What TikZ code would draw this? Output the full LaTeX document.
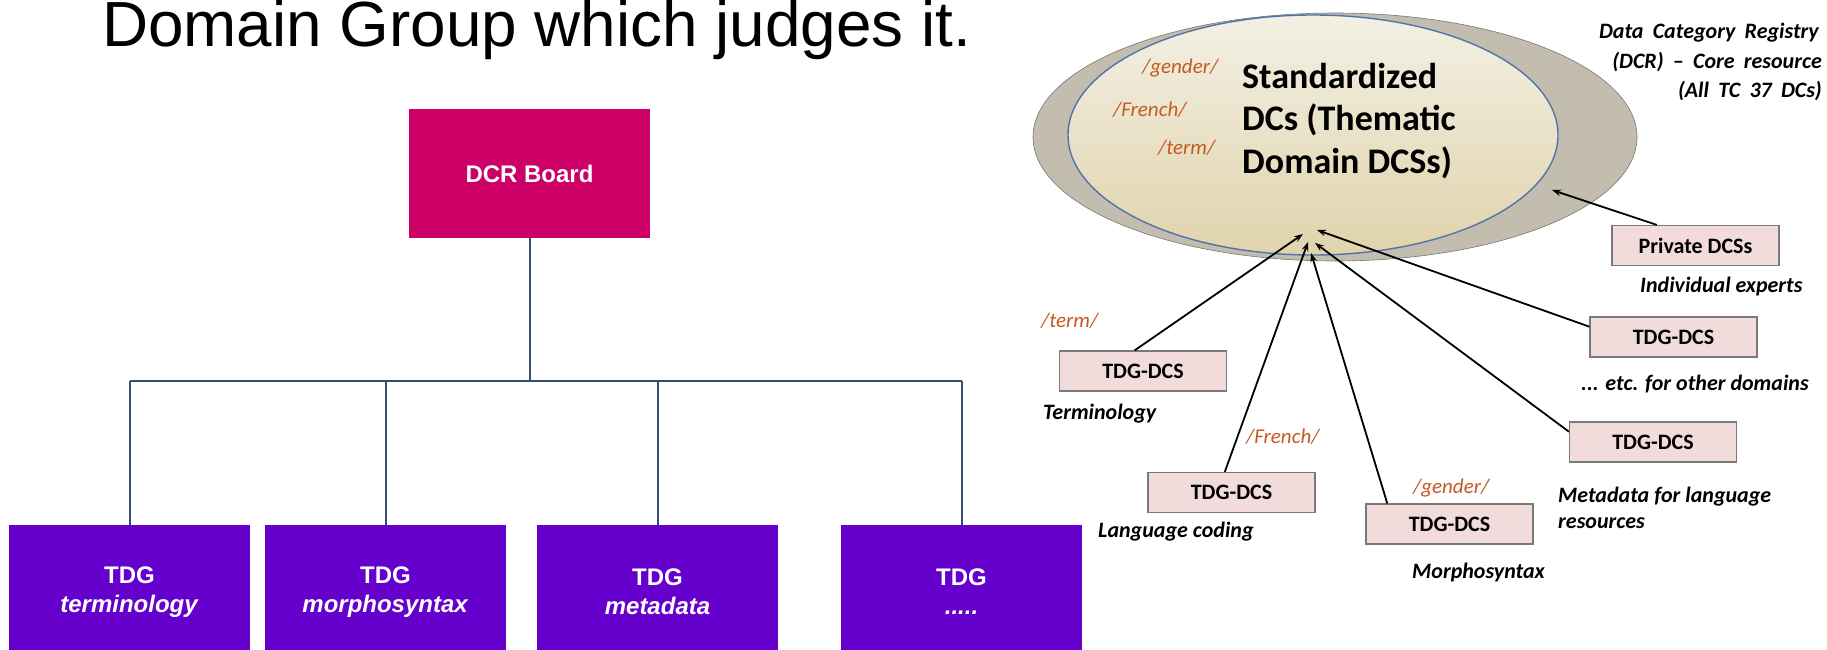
\documentclass[tikz,border=0pt]{standalone}
\usepackage{fontspec}
\usetikzlibrary{arrows.meta,calc,shapes.geometric}
\newfontfamily\arialf{Liberation Sans}
\newfontfamily\calf{Carlito}

\definecolor{boardpink}{HTML}{CC0066}
\definecolor{tdgpurple}{HTML}{6600CC}
\definecolor{lineblue}{HTML}{34506E}
\definecolor{boxpink}{HTML}{F2DCDB}
\definecolor{boxedge}{HTML}{7A7A7A}
\definecolor{tagred}{HTML}{C55A22}
\definecolor{coretop}{HTML}{F3F0E4}
\definecolor{corebot}{HTML}{E0D3AC}
\definecolor{coreedge}{HTML}{4F74A8}
\definecolor{regin}{HTML}{C3BDB0}
\definecolor{regout}{HTML}{918B7F}

% grey rim of the registry ellipse: flat centre, darker towards the border
\pgfdeclareradialshading{regshade}{\pgfpoint{0bp}{0bp}}{%
  color(0bp)=(regin); color(38bp)=(regin); color(50bp)=(regout); color(100bp)=(regout)}

\begin{document}
\begin{tikzpicture}[x=1pt,y=-1pt,
  orgline/.style={draw=lineblue, line width=2pt},
  board/.style={fill=boardpink, minimum width=241pt, minimum height=129pt, inner sep=0pt,
    text=white, font=\arialf\bfseries\fontsize{24}{29}\selectfont},
  tdg/.style={fill=tdgpurple, minimum width=241pt, minimum height=134pt, inner sep=0pt,
    text=white, align=center, font=\arialf\bfseries\fontsize{24}{29}\selectfont},
  registry/.style={ellipse, inner sep=0pt, minimum width=604pt, minimum height=248pt,
    shading=regshade, draw=regout!85!black, line width=0.6pt},
  core/.style={ellipse, inner sep=0pt, minimum width=490pt, minimum height=240pt,
    top color=coretop, bottom color=corebot, draw=coreedge, line width=1.4pt},
  dcsbox/.style={draw=boxedge, fill=boxpink, line width=1.2pt, minimum width=167pt,
    minimum height=40pt, inner sep=0pt, font=\calf\bfseries\fontsize{22}{26}\selectfont},
  caption/.style={inner sep=0pt, font=\calf\bfseries\itshape\fontsize{22}{26}\selectfont},
  tag/.style={inner sep=0pt, text=tagred, font=\calf\itshape\fontsize{21}{25}\selectfont},
  bigtext/.style={inner sep=0pt, anchor=base west, font=\calf\bfseries\fontsize{36}{43}\selectfont},
  feed/.style={draw=black, line width=1.8pt, -{Stealth[length=9pt,width=6.5pt]}}
]
\useasboundingbox (0,0) rectangle (1827,650);
\fill[white] (0,0) rectangle (1827,650);

% ---- heading ----
\node[anchor=base west, inner sep=0pt, font=\arialf\fontsize{63.8}{76}\selectfont] (title) at (102,47)
  {Domain Group which judges it.};

% ---- organisation chart ----
\node[board] (board) at (529.5,173.5) {DCR Board};
\node[tdg] (t1) at (129.5,592) {TDG\\\textit{terminology}};
\node[tdg] (t2) at (385.5,592) {TDG\\\textit{morphosyntax}};
\node[tdg] (t3) at (657.5,592) {TDG\\\textit{metadata}};
\node[tdg] (t4) at (961.5,592) {TDG\\\textit{.....}};

\coordinate (bar) at (529.5,381);
\draw[orgline] (board.south) -- (bar);
\draw[orgline] (t1.north |- bar) -- (t4.north |- bar);
\foreach \n in {t1,t2,t3,t4}
  \draw[orgline] (\n.north |- bar) -- (\n.north);

% ---- data category registry ----
\node[registry] (dcr) at (1335,137) {};
\node[core] (core) at (1313,135) {};

\node[bigtext] (std1) at (1242,89) {Standardized};
\node[bigtext] (std2) at (1242,131) {DCs (Thematic};
\node[bigtext] (std3) at (1242,173) {Domain DCSs)};

\node[tag, anchor=base west] (ingender) at (1142,74) {/gender/};
\node[tag, anchor=base west] (infrench) at (1113,117) {/French/};
\node[tag, anchor=base west] (interm) at (1158,154) {/term/};

\begin{scope}[every node/.append style={caption, anchor=base east,
    execute at begin node={\spaceskip=0.42em\relax}}]
  \node (reg1) at (1819,39) {Data Category Registry};
  \node (reg2) at (1822,69) {(DCR) – Core resource};
  \node (reg3) at (1822,98) {(All TC 37 DCs)};
\end{scope}

% ---- contributing data category selections ----
\node[dcsbox] (bt) at (1143,371) {TDG-DCS};
\node[dcsbox] (bl) at (1231.5,492.5) {TDG-DCS};
\node[dcsbox] (bm) at (1449.5,524) {TDG-DCS};
\node[dcsbox] (bd) at (1653,442) {TDG-DCS};
\node[dcsbox] (be) at (1673.5,337) {TDG-DCS};
\node[dcsbox] (bp) at (1695.5,245.5) {Private DCSs};

\node[caption, anchor=base west] (ct) at (1043,419) {Terminology};
\node[caption, anchor=base west] (cl) at (1098,537) {Language coding};
\node[caption, anchor=base west] (cm) at (1412,578) {Morphosyntax};
\node[caption, anchor=base west] (cp) at (1640,292) {Individual experts};
\node[caption, anchor=base west] (ce) at (1581,390) {... etc. for other domains};
\node[caption, anchor=base west] (cd1) at (1558,502) {Metadata for language};
\node[caption, anchor=base west] (cd2) at (1558,528) {resources};

\node[tag, anchor=base west] (tterm) at (1041,327) {/term/};
\node[tag, anchor=base west] (tfrench) at (1246,443) {/French/};
\node[tag, anchor=base west] (tgender) at (1413,493) {/gender/};

\coordinate (hubt) at (1303,234);
\coordinate (hubl) at (1308,242);
\coordinate (hubm) at (1311,253);
\coordinate (hubd) at (1315,243);
\coordinate (hube) at (1317,230);
\coordinate (hubp) at (1552,190);

\draw[feed] ($(bt.north west)!0.45!(bt.north east)$) -- (hubt);
\draw[feed] ($(bl.north west)!0.46!(bl.north east)$) -- (hubl);
\draw[feed] ($(bm.north west)!0.13!(bm.north east)$) -- (hubm);
\draw[feed] ($(bd.north west)!0.25!(bd.south west)$) -- (hubd);
\draw[feed] ($(be.north west)!0.25!(be.south west)$) -- (hube);
\draw[feed] ($(bp.north west)!0.27!(bp.north east)$) -- (hubp);
\end{tikzpicture}
\end{document}
